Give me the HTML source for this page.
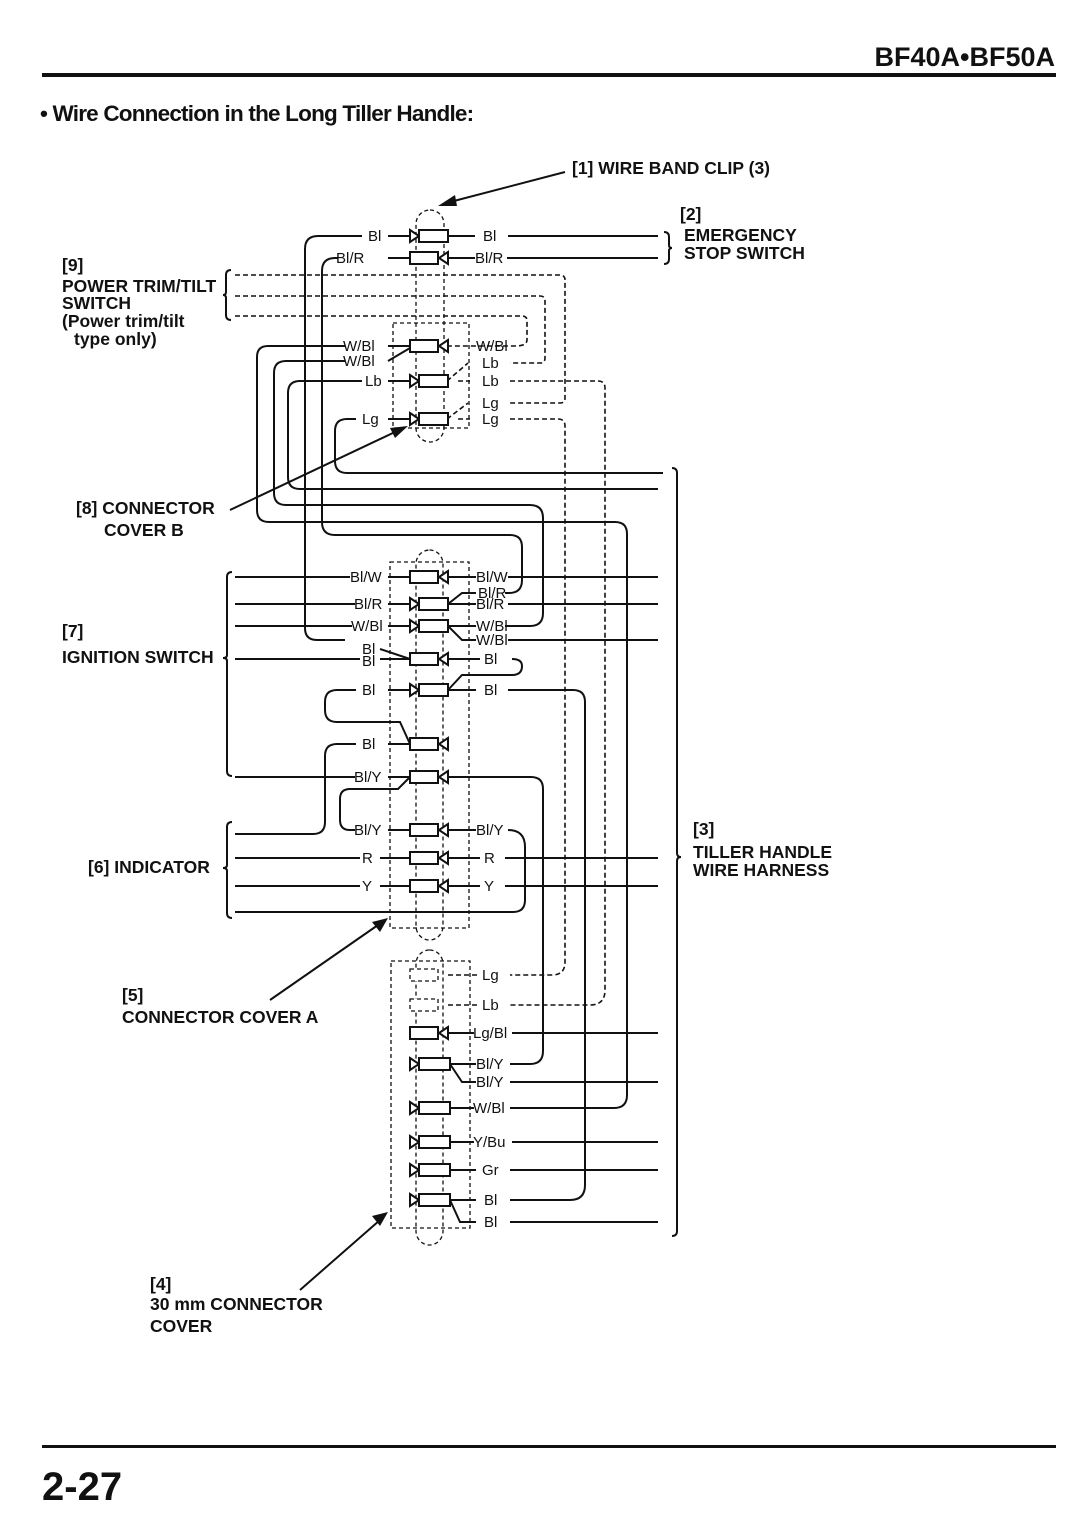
<!DOCTYPE html>
<html><head><meta charset="utf-8"><style>
body{margin:0;background:#fff}
svg{display:block}
text{font-family:"Liberation Sans",Arial,sans-serif;fill:#111}
.b{font-weight:bold;font-size:17.5px}
.w{font-size:15px}
.s{stroke:#111;stroke-width:2;fill:none}
.d{stroke:#111;stroke-width:1.6;fill:none;stroke-dasharray:5,3}
.t{stroke:#111;stroke-width:1.3;fill:none;stroke-dasharray:4,3}
.r{stroke:#111;stroke-width:2;fill:#fff}
</style></head><body>
<svg width="1090" height="1514" viewBox="0 0 1090 1514">
<text x="1055" y="66" text-anchor="end" style="font-weight:bold;font-size:27px">BF40A•BF50A</text>
<rect x="42" y="73" width="1014" height="4" fill="#111"/>
<text x="40" y="121" style="font-weight:bold;font-size:22.5px;letter-spacing:-0.8px">• Wire Connection in the Long Tiller Handle:</text>
<rect x="42" y="1445" width="1014" height="3" fill="#111"/>
<text x="42" y="1500" style="font-weight:bold;font-size:40px">2-27</text>

<!-- labels -->
<text x="572" y="174" class="b">[1] WIRE BAND CLIP (3)</text>
<line x1="565" y1="172" x2="450" y2="202" class="s" stroke-width="1.5"/>
<polygon points="438,206 455,195 457,206" fill="#111"/>
<text x="680" y="220" class="b">[2]</text>
<text x="684" y="241" class="b">EMERGENCY</text>
<text x="684" y="259" class="b">STOP SWITCH</text>
<path d="M664,232 q5,0 5,5 v8 q0,3 3,3 q-3,0 -3,3 v8 q0,5 -5,5" class="s" stroke-width="1.5"/>
<text x="62" y="271" class="b">[9]</text>
<text x="62" y="292" class="b">POWER TRIM/TILT</text>
<text x="62" y="309" class="b">SWITCH</text>
<text x="62" y="327" class="b">(Power trim/tilt</text>
<text x="74" y="345" class="b">type only)</text>
<path d="M231,270 q-5,0 -5,5 v17 q0,3 -3,3 q3,0 3,3 v17 q0,5 5,5" class="s" stroke-width="1.5"/>
<text x="76" y="514" class="b">[8] CONNECTOR</text>
<text x="104" y="536" class="b">COVER B</text>
<line x1="230" y1="510" x2="395" y2="432" class="s" stroke-width="1.5"/>
<polygon points="408,426 390,428 395,438" fill="#111"/>
<text x="62" y="637" class="b">[7]</text>
<text x="62" y="663" class="b">IGNITION SWITCH</text>
<path d="M232,572 q-5,0 -5,5 v78 q0,3 -4,3 q4,0 4,3 v110 q0,5 5,5" class="s" stroke-width="1.5"/>
<text x="88" y="873" class="b">[6] INDICATOR</text>
<path d="M232,822 q-5,0 -5,5 v38 q0,3 -4,3 q4,0 4,3 v42 q0,5 5,5" class="s" stroke-width="1.5"/>
<text x="122" y="1001" class="b">[5]</text>
<text x="122" y="1023" class="b">CONNECTOR COVER A</text>
<line x1="270" y1="1000" x2="378" y2="925" class="s" stroke-width="1.5"/>
<polygon points="388,918 372,922 380,932" fill="#111"/>
<text x="150" y="1290" class="b">[4]</text>
<text x="150" y="1310" class="b">30 mm CONNECTOR</text>
<text x="150" y="1332" class="b">COVER</text>
<line x1="300" y1="1290" x2="380" y2="1220" class="s" stroke-width="1.5"/>
<polygon points="388,1212 372,1216 380,1226" fill="#111"/>
<text x="693" y="835" class="b">[3]</text>
<text x="693" y="858" class="b">TILLER HANDLE</text>
<text x="693" y="876" class="b">WIRE HARNESS</text>
<path d="M672,468 q5,0 5,5 v380 q0,4 4,4 q-4,0 -4,4 v370 q0,5 -5,5" class="s" stroke-width="1.5"/>

<!-- clips / covers -->
<rect x="416" y="210" width="28" height="232" rx="14" class="t"/>
<rect x="393" y="323" width="76" height="105" class="t"/>
<rect x="416" y="550" width="27" height="390" rx="14" class="t"/>
<rect x="390" y="562" width="79" height="366" class="t"/>
<rect x="416" y="950" width="27" height="295" rx="14" class="t"/>
<rect x="391" y="961" width="79" height="267" class="t"/>

<!-- dashed power trim wires -->
<path d="M235,275 H560 q5,0 5,5 V398 q0,5 -5,5 H510" class="d"/>
<path d="M235,296 H540 q5,0 5,5 V358 q0,5 -5,5 H510" class="d"/>
<path d="M235,316 H522 q5,0 5,5 V340 q0,6 -12,6 H447" class="d"/>
<path d="M510,381 H598 q7,0 7,7 V990 q0,15 -15,15 H510" class="d"/>
<path d="M510,419 H558 q7,0 7,7 V962 q0,13 -13,13 H510" class="d"/>
<path d="M447,381 L468,363 M447,419 L468,403 M458,381 H470 M458,419 H470" class="d"/>

<!-- top connector wires -->
<path d="M362,236 H318 q-13,0 -13,13 V628 q0,12 12,12 H345" class="s"/>
<path d="M388,236 H410 M448,236 H475 M508,236 H658" class="s"/>
<path d="M338,258 H335 q-13,0 -13,13 V522 q0,13 13,13 H510 q12,0 12,12 V580 q0,13 -13,13 H505" class="s"/>
<path d="M388,258 H410 M448,258 H475 M507,258 H658" class="s"/>
<path d="M345,346 H268 q-11,0 -11,11 V510 q0,12 12,12 H615 q12,0 12,12 V1095 q0,13 -13,13 H510" class="s"/>
<path d="M345,361 H286 q-12,0 -12,12 V493 q0,12 12,12 H530 q13,0 13,13 V613 q0,13 -13,13 H505" class="s"/>
<path d="M388,346 H410 M388,361 L410,348" class="s"/>
<path d="M362,381 H300 q-12,0 -12,12 V477 q0,12 12,12 H658" class="s"/>
<path d="M388,381 H410" class="s"/>
<path d="M356,419 H347 q-12,0 -12,12 V461 q0,12 12,12 H663" class="s"/>
<path d="M388,419 H410" class="s"/>

<!-- ignition/indicator wires -->
<path d="M235,577 H350 M388,577 H410 M448,577 H476 M508,577 H658" class="s"/>
<path d="M235,604 H355 M388,604 H410 M448,604 H476 M508,604 H658 M448,604 L462,593 H476" class="s"/>
<path d="M235,626 H352 M388,626 H410 M448,626 H476 M448,626 L462,640 H476 M508,640 H658" class="s"/>
<path d="M235,659 H360 M380,649 L410,659 M380,659 H410 M448,659 H480" class="s"/>
<path d="M512,659 q10,0 10,7 q0,9 -10,9 H462 L448,690" class="s"/>
<path d="M356,690 H337 q-12,0 -12,12 V710 q0,12 12,12 H400 L410,744" class="s"/>
<path d="M388,690 H410 M448,690 H476 M508,690 H573 q12,0 12,12 V1185 q0,15 -15,15 H510" class="s"/>
<path d="M356,744 H337 q-12,0 -12,12 V822 q0,12 -12,12 H235" class="s"/>
<path d="M388,744 H410" class="s"/>
<path d="M235,777 H355 M388,777 H410 M448,777 H531 q12,0 12,12 V1051 q0,13 -13,13 H510" class="s"/>
<path d="M410,777 L398,789 H350 q-10,0 -10,10 V820 q0,10 10,10 H355" class="s"/>
<path d="M388,830 H410 M448,830 H476" class="s"/>
<path d="M508,830 q17,0 17,17 V900 q0,12 -12,12 H235" class="s"/>
<path d="M235,858 H360 M380,858 H410 M448,858 H480 M505,858 H658" class="s"/>
<path d="M235,886 H360 M380,886 H410 M448,886 H480 M505,886 H658" class="s"/>

<!-- bottom connector wires -->
<path d="M448,1033 H474 M512,1033 H658" class="s"/>
<path d="M450,1064 H476 M450,1064 L462,1082 H476 M510,1082 H658" class="s"/>
<path d="M450,1108 H474" class="s"/>
<path d="M450,1142 H474 M512,1142 H658" class="s"/>
<path d="M450,1170 H476 M510,1170 H658" class="s"/>
<path d="M450,1200 H476 M450,1200 L460,1222 H476 M510,1222 H658" class="s"/>
<path d="M448,975 H478 M448,1005 H478" class="d"/>

<g>
<polygon points="410,230 419,236 410,242" class="r"/><rect x="419" y="230" width="29" height="12" class="r"/>
<rect x="410" y="252" width="28" height="12" class="r"/><polygon points="448,252 439,258 448,264" class="r"/>
<rect x="410" y="340" width="28" height="12" class="r"/><polygon points="448,340 439,346 448,352" class="r"/>
<polygon points="410,375 419,381 410,387" class="r"/><rect x="419" y="375" width="29" height="12" class="r"/>
<polygon points="410,413 419,419 410,425" class="r"/><rect x="419" y="413" width="29" height="12" class="r"/>
<rect x="410" y="571" width="28" height="12" class="r"/><polygon points="448,571 439,577 448,583" class="r"/>
<polygon points="410,598 419,604 410,610" class="r"/><rect x="419" y="598" width="29" height="12" class="r"/>
<polygon points="410,620 419,626 410,632" class="r"/><rect x="419" y="620" width="29" height="12" class="r"/>
<rect x="410" y="653" width="28" height="12" class="r"/><polygon points="448,653 439,659 448,665" class="r"/>
<polygon points="410,684 419,690 410,696" class="r"/><rect x="419" y="684" width="29" height="12" class="r"/>
<rect x="410" y="738" width="28" height="12" class="r"/><polygon points="448,738 439,744 448,750" class="r"/>
<rect x="410" y="771" width="28" height="12" class="r"/><polygon points="448,771 439,777 448,783" class="r"/>
<rect x="410" y="824" width="28" height="12" class="r"/><polygon points="448,824 439,830 448,836" class="r"/>
<rect x="410" y="852" width="28" height="12" class="r"/><polygon points="448,852 439,858 448,864" class="r"/>
<rect x="410" y="880" width="28" height="12" class="r"/><polygon points="448,880 439,886 448,892" class="r"/>
<rect x="410" y="969" width="28" height="12" class="t" style="fill:#fff"/>
<rect x="410" y="999" width="28" height="12" class="t" style="fill:#fff"/>
<rect x="410" y="1027" width="28" height="12" class="r"/><polygon points="448,1027 439,1033 448,1039" class="r"/>
<polygon points="410,1058 419,1064 410,1070" class="r"/><rect x="419" y="1058" width="31" height="12" class="r"/>
<polygon points="410,1102 419,1108 410,1114" class="r"/><rect x="419" y="1102" width="31" height="12" class="r"/>
<polygon points="410,1136 419,1142 410,1148" class="r"/><rect x="419" y="1136" width="31" height="12" class="r"/>
<polygon points="410,1164 419,1170 410,1176" class="r"/><rect x="419" y="1164" width="31" height="12" class="r"/>
<polygon points="410,1194 419,1200 410,1206" class="r"/><rect x="419" y="1194" width="31" height="12" class="r"/>
</g>

<g class="w">
<text x="368" y="241">Bl</text><text x="483" y="241">Bl</text>
<text x="336" y="263">Bl/R</text><text x="475" y="263">Bl/R</text>
<text x="343" y="351">W/Bl</text><text x="343" y="366">W/Bl</text>
<text x="476" y="351">W/Bl</text><text x="482" y="368">Lb</text>
<text x="365" y="386">Lb</text><text x="482" y="386">Lb</text>
<text x="482" y="408">Lg</text>
<text x="362" y="424">Lg</text><text x="482" y="424">Lg</text>
<text x="350" y="582">Bl/W</text><text x="476" y="582">Bl/W</text>
<text x="478" y="598">Bl/R</text>
<text x="354" y="609">Bl/R</text><text x="476" y="609">Bl/R</text>
<text x="351" y="631">W/Bl</text><text x="476" y="631">W/Bl</text>
<text x="476" y="645">W/Bl</text>
<text x="362" y="654">Bl</text><text x="362" y="666">Bl</text><text x="484" y="664">Bl</text>
<text x="362" y="695">Bl</text><text x="484" y="695">Bl</text>
<text x="362" y="749">Bl</text>
<text x="354" y="782">Bl/Y</text>
<text x="354" y="835">Bl/Y</text><text x="476" y="835">Bl/Y</text>
<text x="362" y="863">R</text><text x="484" y="863">R</text>
<text x="362" y="891">Y</text><text x="484" y="891">Y</text>
<text x="482" y="980">Lg</text><text x="482" y="1010">Lb</text>
<text x="473" y="1038">Lg/Bl</text>
<text x="476" y="1069">Bl/Y</text><text x="476" y="1087">Bl/Y</text>
<text x="473" y="1113">W/Bl</text>
<text x="473" y="1147">Y/Bu</text>
<text x="482" y="1175">Gr</text>
<text x="484" y="1205">Bl</text><text x="484" y="1227">Bl</text>
</g>
</svg>
</body></html>
